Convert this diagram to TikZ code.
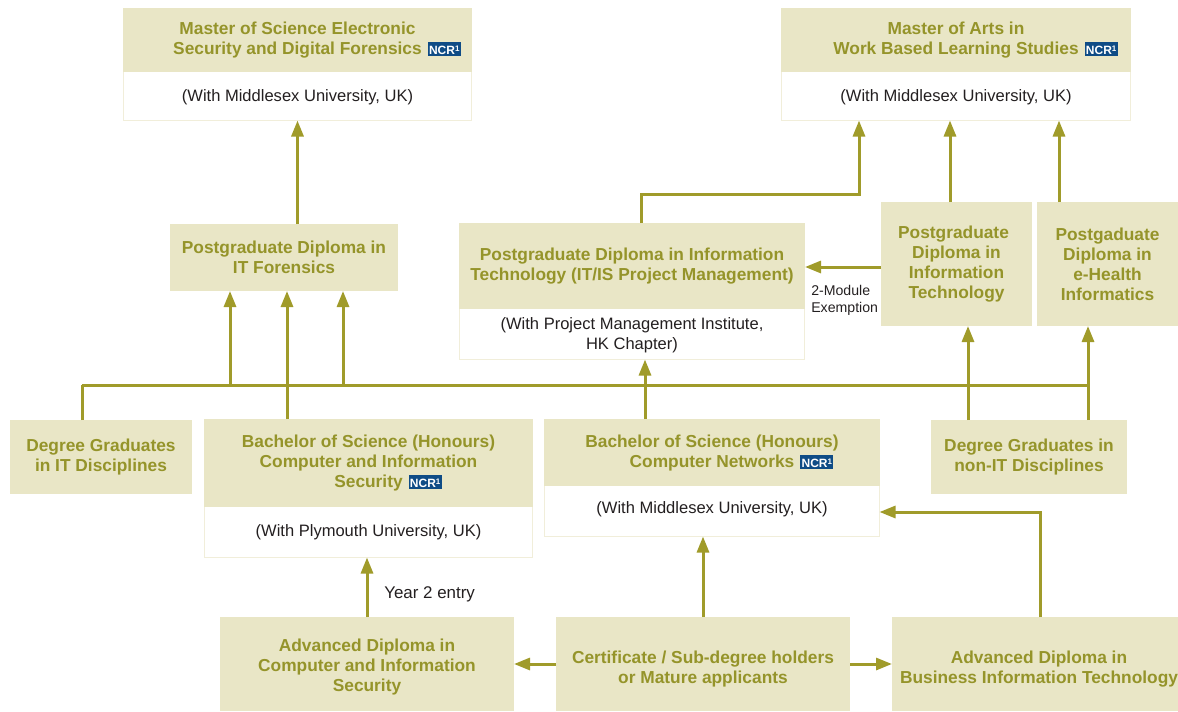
\documentclass[tikz,border=0pt]{standalone}
\usepackage{fontspec}
\setmainfont{Liberation Sans}
\usetikzlibrary{positioning,calc,arrows.meta}
\definecolor{boxfill}{HTML}{E9E6C6}
\definecolor{boxline}{HTML}{F1EEDA}
\definecolor{headtext}{HTML}{95942A}
\definecolor{arrowcol}{HTML}{A09B2A}
\definecolor{ncrblue}{HTML}{0F4C86}
\definecolor{bodytext}{HTML}{231F20}
\newcommand{\ncr}{\rlap{\hspace{4.5pt}\smash{\setlength{\fboxsep}{0pt}\raisebox{-0.25pt}{\colorbox{ncrblue}{\makebox[24.75pt]{\vrule width 0pt height 9.5pt depth 1pt\textcolor{white}{\fontsize{9}{9}\selectfont NCR\raisebox{2.5pt}{\fontsize{6}{6}\selectfont 1}}}}}}}}
\newcommand{\drop}[1]{\rule{0pt}{#1}}
\tikzset{
  sized/.style 2 args={minimum width=#1*0.75pt,minimum height=#2*0.75pt},
  head/.style={fill=boxfill,text=headtext,font=\fontsize{13}{15}\selectfont\bfseries,align=center,inner sep=0pt,outer sep=0pt},
  body/.style={draw=boxline,line width=1pt,fill=white,text=bodytext,font=\fontsize{12.4}{15.5}\selectfont,align=center,inner sep=0pt,outer sep=0pt},
  link/.style={draw=arrowcol,line width=2.25pt},
  arrow/.style={link,-{Triangle[length=12pt,width=9pt]}},
  note/.style={text=bodytext,align=left,inner sep=0pt}
}
\begin{document}
\begin{tikzpicture}[x=0.75pt,y=-0.75pt]
  \useasboundingbox (0,0) rectangle (1178,711);

  % masters
  \node (mscb) [body,sized={348}{49},text height=11pt] at (297.5,96) {(With Middlesex University, UK)};
  \node (msc) [head,sized={349}{64},above=-0.5pt of mscb] {Master of Science Electronic\\Security and Digital Forensics\ncr};
  \node (mab) [body,sized={349}{49},text height=11pt] at (956,96) {(With Middlesex University, UK)};
  \node (ma) [head,sized={350}{64},above=-0.5pt of mab] {Master of Arts in\\Work Based Learning Studies\ncr};

  % postgraduate diplomas
  \node (pgforensics) [head,sized={228}{67}] at (284,257.5) {Postgraduate Diploma in\\IT Forensics};
  \node (pgpmb) [body,sized={345}{51}] at (632,334) {\drop{11pt}(With Project Management Institute,\\HK Chapter)};
  \node (pgpm) [head,sized={346}{86},above=-0.5pt of pgpmb] {Postgraduate Diploma in Information\\Technology (IT/IS Project Management)};
  \node (pgit) [head,sized={151}{124}] at (956.5,264) {Postgraduate\hspace*{4.5pt}\\Diploma in\\Information\\Technology};
  \node (pghealth) [head,sized={141}{124}] at (1107.5,264) {Postgaduate\\Diploma in\\e-Health\\Informatics};

  % degrees
  \node (dgit) [head,sized={182}{74}] at (101,457) {Degree Graduates\\in IT Disciplines};
  \node (bsccisb) [body,sized={328}{51}] at (368.5,532) {(With Plymouth University, UK)};
  \node (bsccis) [head,sized={329}{88},above=-0.5pt of bsccisb] {Bachelor of Science (Honours)\\Computer and Information\\Security\ncr};
  \node (bsccnb) [body,sized={335}{51},text depth=5.6pt] at (712,511) {(With Middlesex University, UK)};
  \node (bsccn) [head,sized={336}{67},above=-0.5pt of bsccnb] {Bachelor of Science (Honours)\\Computer Networks\ncr};
  \node (dgnon) [head,sized={196}{74}] at (1029,457) {Degree Graduates in\\non-IT Disciplines};

  % entry level
  \node (adcis) [head,sized={294}{94}] at (367,664) {\drop{13.3pt}Advanced Diploma in\\Computer and Information\\Security};
  \node (cert) [head,sized={294}{94}] at (703,664) {\drop{17pt}Certificate / Sub-degree holders\\or Mature applicants};
  \node (adbit) [head,sized={286}{94}] at (1035,664) {\drop{17pt}\hspace*{6pt}Advanced Diploma in\\\hspace*{6pt}Business Information Technology};

  % notes
  \node (exempt) [note,anchor=north west,font=\fontsize{10.6}{12.8}\selectfont] at (811,285) {2-Module\\Exemption};
  \node (year) [note,anchor=west,font=\fontsize{12.7}{15}\selectfont] at (384,594) {Year 2 entry};

  % bus line
  \coordinate (busl) at (82,385);
  \coordinate (busa) at (230,385);
  \coordinate (busb) at (343,385);
  \coordinate (busr) at (1088,385);
  \draw[link] (busl)--(busr);
  \draw[link] (dgit.north -| busl)--(busl);
  \draw[arrow] (busa)--(busa |- pgforensics.south);
  \draw[arrow] (busb)--(busb |- pgforensics.south);
  \draw[arrow] (bsccis.north -| 287,0)--(pgforensics.south -| 287,0);
  \draw[arrow] (bsccn.north -| 645,0)--(pgpmb.south -| 645,0);
  \draw[arrow] (dgnon.north -| 968,0)--(pgit.south -| 968,0);
  \draw[arrow] (dgnon.north -| busr)--(pghealth.south -| busr);

  % to the masters
  \draw[arrow] (pgforensics.north -| msc.south)--(mscb.south);
  \draw[arrow] (pgpm.north -| 641,0)--(641,194)-|(mab.south -| 859,0);
  \draw[arrow] (pgit.north -| 950,0)--(mab.south -| 950,0);
  \draw[arrow] (pghealth.north -| 1059,0)--(mab.south -| 1059,0);
  \draw[arrow] (pgit.west |- 0,267)--(pgpm.east |- 0,267);

  % from the entry level
  \draw[arrow] (adcis.north)--(bsccisb.south -| adcis.north);
  \draw[arrow] (cert.north)--(bsccnb.south -| cert.north);
  \draw[arrow] (cert)--(adcis);
  \draw[arrow] (cert)--(adbit);
  \draw[arrow] (adbit.north -| 1040,0)--(1040,512)--(bsccnb.east |- 0,512);
\end{tikzpicture}
\end{document}
